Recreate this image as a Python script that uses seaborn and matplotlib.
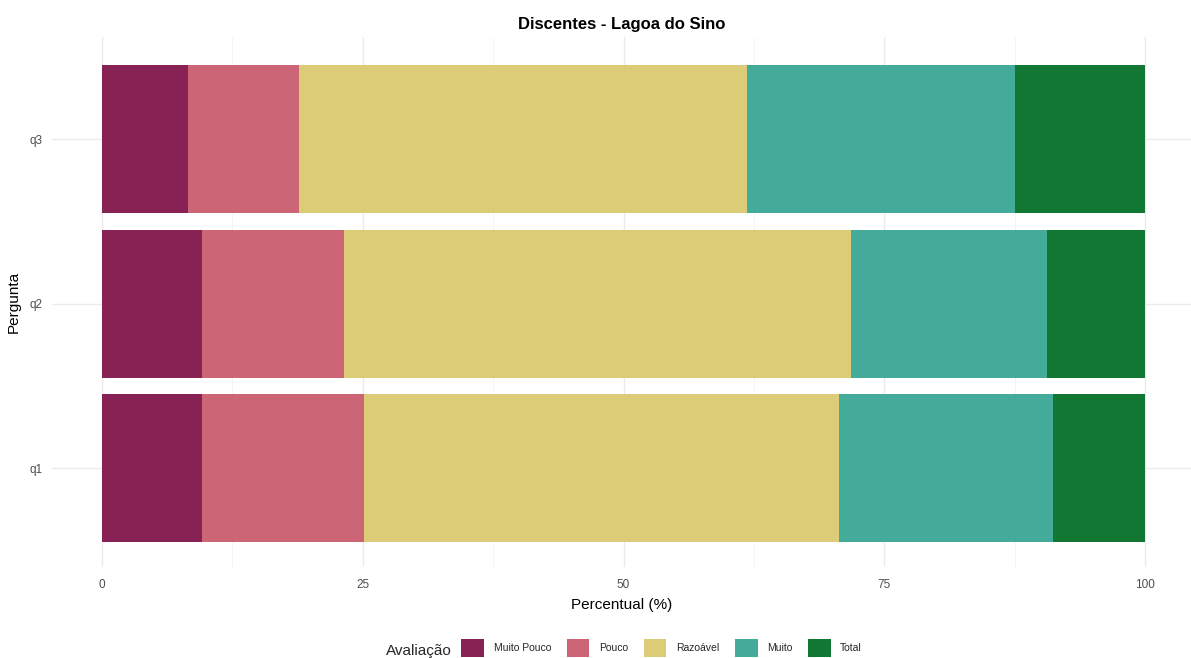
import matplotlib
matplotlib.use("Agg")
import matplotlib.pyplot as plt
from matplotlib.patches import Patch
import seaborn as sns
import pandas as pd
import numpy as np

sns.set_theme(style="white")
plt.rcParams['font.family'] = ['Liberation Sans', 'DejaVu Sans']

# percentuais
perguntas = ["q3", "q2", "q1"]
avaliacoes = ["Muito Pouco", "Pouco", "Razoável", "Muito", "Total"]
muito_pouco = [8.2, 9.6, 9.6]
pouco = [10.7, 13.6, 15.5]
razoavel = [42.9, 48.6, 45.6]
muito = [25.7, 18.8, 20.5]
total = [12.5, 9.4, 8.8]
cores = ["#882255", "#CC6677", "#DDCC77", "#44AA99", "#117733"]

df = pd.DataFrame({"Pergunta": perguntas, "Muito Pouco": muito_pouco, "Pouco": pouco,
                   "Razoável": razoavel, "Muito": muito, "Total": total})
acum = df[avaliacoes].cumsum(axis=1)
acum["Pergunta"] = df["Pergunta"]

fig = plt.figure(figsize=(11.91, 6.58), dpi=100)
ax = fig.add_axes([52 / 1191, 1 - 567 / 658, 1 - 52 / 1191, (567 - 37) / 658])

# barras empilhadas: desenha do acumulado maior para o menor
for nome, cor in zip(avaliacoes[::-1], cores[::-1]):
    sns.barplot(data=acum, x=nome, y="Pergunta", order=perguntas, color=cor,
                width=0.9, ax=ax, saturation=1, linewidth=0, zorder=2)

ax.set_xlim(-4.8, 104.4)
ax.set_ylim(2.6, -0.62)
ax.set_xticks([0, 25, 50, 75, 100])
ax.set_xticks([12.5, 37.5, 62.5, 87.5], minor=True)
ax.grid(True, which="major", color="#EBEBEB", linewidth=1.0, zorder=0)
ax.grid(True, which="minor", axis="x", color="#F2F2F2", linewidth=0.6, zorder=0)
ax.set_axisbelow(True)
for s in ax.spines.values():
    s.set_visible(False)
ax.tick_params(axis="both", length=0, labelsize=8.5, labelcolor="#4D4D4D")
ax.tick_params(axis="x", pad=9)
ax.tick_params(axis="y", pad=7)
ax.set_xlabel("Percentual (%)", fontsize=11, color="black", labelpad=5)
ax.set_ylabel("Pergunta", fontsize=11, color="black", labelpad=6)
ax.set_title("Discentes - Lagoa do Sino", fontsize=12, fontweight="bold", color="black", pad=6)

handles = [Patch(facecolor=c, edgecolor="none") for c in cores]
fig.text(386 / 1191, 1 - 651 / 658, "Avaliação", fontsize=11, va="center", ha="left")
fig.legend(handles, avaliacoes, loc="center left", bbox_to_anchor=(456 / 1191, 1 - 648 / 658),
           ncol=5, frameon=False, fontsize=7.5, handlelength=2.2, handleheight=2.4,
           handletextpad=0.9, columnspacing=1.5, borderpad=0)

fig.savefig("out.png", dpi=100)
